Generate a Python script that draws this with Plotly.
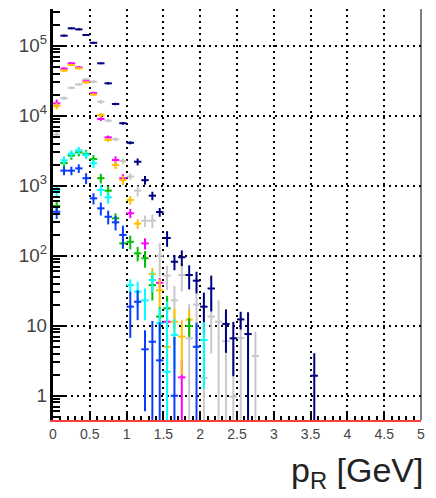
import plotly.graph_objects as go

# ---- data (bin centres in GeV, bin contents, errors) ----
navy_x = [0.15, 0.25, 0.35, 0.45, 0.55, 0.65, 0.75, 0.85, 0.95, 1.05, 1.15, 1.25, 1.35,
          1.45, 1.55, 1.65, 1.75, 1.85, 1.95, 2.05, 2.15, 2.35, 2.45, 2.55, 2.65, 3.55]
navy_y = [1.39e5, 1.77e5, 1.71e5, 1.42e5, 1.10e5, 5.6e4, 2.9e4, 1.47e4, 7.8e3, 4.1e3, 2.2e3,
          1.2e3, 720, 420, 179, 82, 95, 53, 44, 18.7, 34, 10.6, 6.6, 12.3, 7.6, 1.93]
navy_e = [4.6e3, 5e3, 5e3, 4e3, 3e3, 1.5e3, 1e3, 600, 350, 200, 250, 170, 100, 60, 45, 20,
          24, 20, 15, 11, 18, 6.5, 4.7, 3.5, 8, 2.1]

magenta_x = [0.05, 0.15, 0.25, 0.35, 0.45, 0.55, 0.65, 0.75, 0.85, 0.95, 1.05, 1.25, 1.45,
             1.55, 1.75]
magenta_y = [1.5e4, 4.7e4, 5.6e4, 4.9e4, 3.1e4, 2.1e4, 9.0e3, 4.9e3, 2.33e3, 1.28e3, 404,
             150, 41, 11.4, 1.83]
magenta_e = [2e3, 2e3, 2e3, 2e3, 1.5e3, 1e3, 600, 300, 300, 180, 60, 27, 7, 2, 1.4]

orange_x = [0.05, 0.15, 0.25, 0.35, 0.45, 0.55, 0.65, 0.75, 0.85, 0.95, 1.05, 1.15, 1.35,
            1.45, 1.55, 1.65, 1.75, 1.85]
orange_y = [1.38e4, 4.4e4, 5.3e4, 4.75e4, 3.0e4, 2.0e4, 1.02e4, 4.5e3, 1.98e3, 1.2e3, 625,
            287, 55, 32, 5.0, 11.4, 7.0, 12.2]
orange_e = [1.5e3, 2e3, 2e3, 2e3, 1.5e3, 1e3, 800, 300, 250, 180, 90, 45, 12, 14, 3.5, 6, 5, 5]

grey_x = [0.05, 0.15, 0.25, 0.35, 0.45, 0.55, 0.65, 0.75, 0.85, 0.95, 1.05, 1.15, 1.25, 1.35,
          1.45, 1.55, 1.65, 1.75, 1.85, 1.95, 2.05, 2.15, 2.25, 2.35, 2.45, 2.55, 2.75]
grey_y = [5.4e3, 1.78e4, 2.5e4, 2.8e4, 3.3e4, 3.06e4, 1.58e4, 8.5e3, 4.6e3, 2.25e3, 1.35e3,
          850, 316, 316, 100, 52, 23, 53, 6.6, 20, 1.8, 13.5, 11.4, 6.0, 0.97, 6.7, 3.7]
grey_e = [600, 1e3, 1e3, 1.2e3, 1.5e3, 1.5e3, 1e3, 500, 300, 200, 150, 150, 60, 70, 50, 20,
          14, 22, 14, 15, 21, 9.5, 11.6, 10.7, 5, 7, 4.5]

cyan_x = [0.05, 0.15, 0.25, 0.35, 0.45, 0.55, 0.65, 0.75, 1.05, 1.15, 1.25, 1.35, 1.45, 1.55,
          1.65, 2.05]
cyan_y = [864, 2.3e3, 2.85e3, 3.2e3, 2.75e3, 2.09e3, 870, 683, 38, 30.6, 23, 45, 10.8, 2.2,
          7.4, 6.25]
cyan_e = [160, 330, 350, 380, 350, 300, 160, 130, 8, 12, 11, 15, 7, 20, 5, 5]

green_x = [0.05, 0.15, 0.25, 0.35, 0.45, 0.55, 0.65, 0.75, 0.85, 0.95, 1.05, 1.15, 1.25,
           1.35, 1.45, 1.55, 1.85]
green_y = [513, 2.1e3, 2.7e3, 3.0e3, 2.85e3, 2.4e3, 1.28e3, 850, 342, 150, 158, 108, 92, 38,
           13.5, 17.7, 9.9]
green_e = [90, 300, 350, 380, 380, 330, 200, 140, 60, 25, 35, 25, 25, 15, 5, 9, 3]

blue_x = [0.05, 0.15, 0.25, 0.35, 0.45, 0.55, 0.65, 0.75, 0.85, 0.95, 1.05, 1.15, 1.25, 1.35,
          1.45, 1.65, 1.95]
blue_y = [425, 1.64e3, 1.64e3, 1.77e3, 1.28e3, 660, 475, 360, 300, 198, 18.7, 22, 4.6, 5.9,
          3.2, 1.0, 5.0]
blue_e = [90, 230, 230, 250, 230, 120, 100, 80, 70, 70, 12, 10, 4, 5.8, 8, 5.9, 6]

series = [
    ("grey", grey_x, grey_y, grey_e, "#c8c8c8"),
    ("navy", navy_x, navy_y, navy_e, "#000080"),
    ("magenta", magenta_x, magenta_y, magenta_e, "#ff00ff"),
    ("orange", orange_x, orange_y, orange_e, "#ffc000"),
    ("green", green_x, green_y, green_e, "#00c000"),
    ("cyan", cyan_x, cyan_y, cyan_e, "#00ffff"),
    ("blue", blue_x, blue_y, blue_e, "#0a3cff"),
]

BIN_HALF = 0.05

fig = go.Figure()
for name, xs, ys, es, col in series:
    fig.add_trace(go.Scatter(
        x=xs, y=ys, mode="markers", name=name, showlegend=False,
        marker=dict(size=2, color=col),
        error_y=dict(type="data", array=es, color=col, thickness=2, width=0),
        error_x=dict(type="constant", value=BIN_HALF, color=col, thickness=2, width=0),
    ))

fig.update_layout(
    width=436, height=498,
    margin=dict(l=53, r=15, t=9, b=78),
    paper_bgcolor="white", plot_bgcolor="white",
    font=dict(family="Liberation Sans, Arial, sans-serif", color="#333"),
)

fig.update_xaxes(
    range=[0, 5], tick0=0, dtick=0.5,
    ticks="inside", ticklen=8, tickwidth=2, tickcolor="black",
    showline=True, linecolor="#ff3c3c", linewidth=2,
    showgrid=True, gridcolor="black", gridwidth=2, griddash="2px,4px",
    zeroline=False, tickfont=dict(size=14, color="#444"), ticklabelstandoff=0,
    minor=dict(dtick=0.1, ticks="inside", ticklen=4, tickwidth=2, tickcolor="black",
               showgrid=False),
)
fig.update_yaxes(
    type="log", range=[-0.347, 5.524], tick0=0, dtick=1, exponentformat="power",
    ticks="inside", ticklen=12, tickwidth=2, tickcolor="black",
    showline=True, linecolor="black", linewidth=3,
    showgrid=True, gridcolor="black", gridwidth=2, griddash="2px,4px",
    zeroline=False, tickfont=dict(size=15, color="#444"), ticklabelstandoff=0,
    minor=dict(dtick="D1", ticks="inside", ticklen=7, tickwidth=2, tickcolor="black",
               showgrid=False),
)

# right frame edge
fig.add_shape(type="line", xref="paper", yref="paper", x0=1, x1=1, y0=0, y1=1,
              line=dict(color="black", width=1))

fig.add_annotation(text="p<sub>R</sub> [GeV]", xref="paper", yref="paper",
                   x=1.0, y=-0.07, xanchor="right", yanchor="top", showarrow=False,
                   xshift=4, font=dict(size=34, color="#222"))

fig.write_html("out.html")
